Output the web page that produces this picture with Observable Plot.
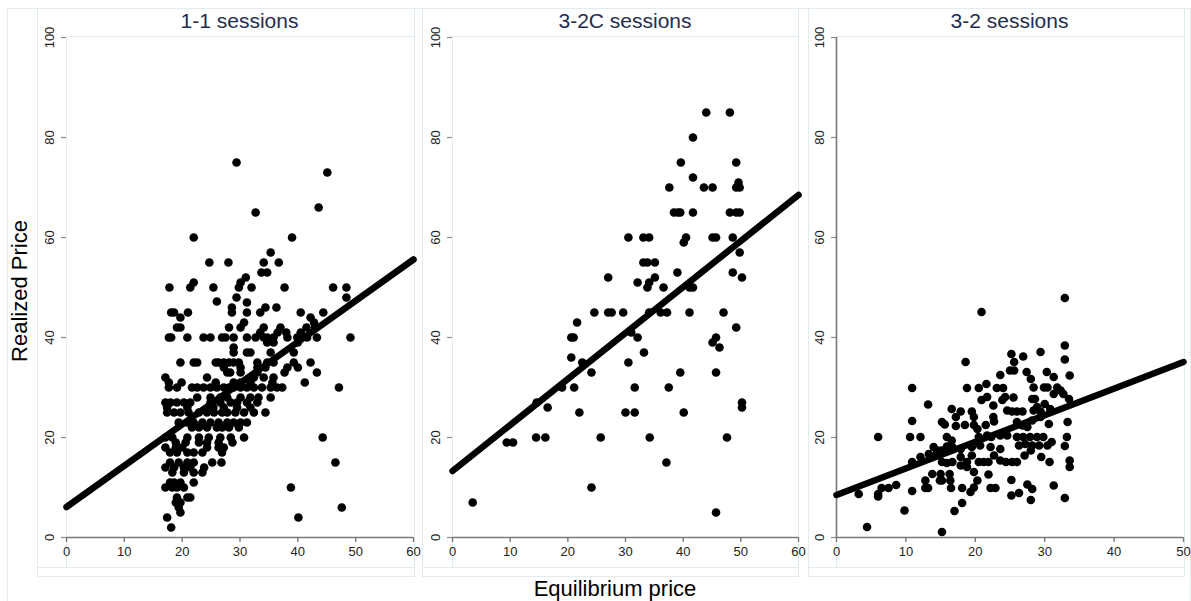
<!DOCTYPE html>
<html>
<head>
<meta charset="utf-8">
<script src="https://cdn.jsdelivr.net/npm/d3@7"></script>
<script src="https://cdn.jsdelivr.net/npm/@observablehq/plot@0.6"></script>
<style>
  body { margin: 0; background: #fff; font-family: "Liberation Sans", Arial, sans-serif; }
  #wrap { position: relative; width: 1191px; height: 601px; overflow: hidden; background: #fff; }
  .box { position: absolute; box-sizing: border-box; border: 1px solid #e3ecec; }
  .hline { position: absolute; height: 0; border-top: 1px solid #e3ecec; }
  .ttl { position: absolute; top: 6px; height: 30px; line-height: 30px; text-align: center; color: #1f2d50; font-size: 21px; white-space: nowrap; }
  .plot { position: absolute; top: 0; }
  .plot svg { max-width: none !important; }
  #ylab { position: absolute; left: 20px; top: 291px; transform: translate(-50%, -50%) rotate(-90deg); font-size: 22px; line-height: 1; white-space: nowrap; color: #000; }
  #xlab { position: absolute; left: 615px; top: 589px; transform: translate(-50%, -50%); font-size: 22px; line-height: 1; white-space: nowrap; color: #000; }
</style>
</head>
<body>
<div id="wrap">
  <div class="box" style="left:7px;top:8px;width:1184px;height:700px;"></div>
  <div class="box" style="left:37px;top:8px;width:378px;height:569px;"></div>
  <div class="box" style="left:422px;top:8px;width:377px;height:569px;"></div>
  <div class="box" style="left:808px;top:8px;width:377px;height:569px;"></div>
  <div class="box" style="left:66px;top:36px;width:349px;height:532px;"></div>
  <div class="box" style="left:452px;top:36px;width:347px;height:532px;"></div>
  <div class="box" style="left:836px;top:36px;width:349px;height:532px;"></div>
  <div class="hline" style="left:37px;top:567px;width:378px;"></div>
  <div class="hline" style="left:422px;top:567px;width:377px;"></div>
  <div class="hline" style="left:808px;top:567px;width:377px;"></div>
  <div id="ylab">Realized Price</div>
  <div id="xlab">Equilibrium price</div>
</div>
<script>
// ---------------- DATA ----------------
const panelTitles = ["1-1 sessions", "3-2C sessions", "3-2 sessions"];
const xDomain11 = [0, 60], xDomain32C = [0, 60], xDomain32 = [0, 50];
const xTicks11 = [0, 10, 20, 30, 40, 50, 60];
const xTicks32C = [0, 10, 20, 30, 40, 50, 60];
const xTicks32 = [0, 10, 20, 30, 40, 50];
const yDomain = [0, 100];
const yTicks = [0, 20, 40, 60, 80, 100];

// fitted lines (endpoints): [equilibrium, realized]
const fit11 = [[0, 6.1], [60, 55.6]];
const fit32C = [[0, 13.3], [60, 68.5]];
const fit32 = [[0, 8.5], [50, 35.1]];

// [equilibrium price, realized price]
const points11 = [
  [29.4,75],[45.1,73],[32.7,65],[43.6,66],[22,60],[39,60],[35.3,57],
  [24.7,55],[28,55],[34.1,55],[36.7,55],[33.7,53],[34.7,53],[31,52],
  [17.8,50],[21.4,50],[25.4,50],[29.8,50],[32,50],[37.7,50],[46.1,50],[48.4,50],
  [22,51],[30.1,51],[48.4,48],[29.4,48],[26,47.2],
  [18.1,45],[18.6,45],[21,45],[19.7,44],
  [28.6,46],[28.6,45],[31.2,47],[31.2,45],[34.4,46],[33.5,45],[36.3,46],
  [40.5,45],[42.2,44],[44.4,45],[42.8,43],[30.7,43],
  [19.1,42],[19.7,42],[28.1,42],[30.1,42],[34.1,42],[37,42],
  [33.5,41],[36.5,41],[38,41],[40.5,41],[41.5,42],[43,42],
  [17.7,40],[18.1,40],[20.9,40],[23.7,40],[24.9,40],[26.9,40],[27.5,40],[28.9,40],[31.2,40],
  [32.7,40],[34.1,40],[34.7,40],[35.8,40],[38.2,40],[39.9,40],[41.6,40],[43.3,40],[49.1,40],
  [34.7,39],[35.8,39],[40,39],[28.9,38],
  [28.9,37],[31.2,37],[31.8,37],[35.3,37],[39.3,37],
  [19.7,35],[22,35],[22.6,35],[25.8,35],[26.3,35],[27.2,35],[28.1,35],[28.9,35],[29.8,35],
  [33,35],[34.7,35],[35.8,35],[39.3,35],[42.2,35],
  [27.2,34],[30.1,34],[33,34],[34.4,34],[38.2,34],[40,34],
  [27.8,33],[28.3,33],[30.1,33],[33,33],[37.7,33],[43.3,33],
  [17.1,32],[24.3,32],[32.4,32],[34.1,32],[35.8,32],
  [17.7,31],[19.9,31],[25.8,31],[28.9,31],[30.1,31],[31.8,31],[35.6,31],[41.2,31],
  [17.7,30],[19.1,30],[21.7,30],[22.6,30],[23.7,30],[24.9,30],[26,30],[27.2,30],[28.1,30],
  [28.9,30],[30.1,30],[31.2,30],[32.4,30],[33.8,30],[35.3,30],[36.4,30],[37.3,30],[47.1,30],
  [22.6,28],[24.9,28],[26.6,28],[27.8,28],[30.1,28],[31.8,28],[33.2,28],[35.3,28],
  [17.1,27],[18,27],[19.1,27],[20.3,27],[21.4,27],[24.9,27],[26.6,27],[28.4,27],[29.5,27],[31.2,27],[33,27],
  [17.4,26],[20.9,26],[25.4,26],[27.2,26],[29.5,26],[31.8,26],
  [17.4,25],[18.6,25],[19.7,25],[21.1,25],[22.9,25],[24.3,25],[25.5,25],[26.9,25],[27.8,25],
  [29.2,25],[30.7,25],[32.4,25],[34.4,25],
  [19.4,23],[20.9,23],[22,23],[23.5,23],[24.9,23],[26.3,23],[27.8,23],[28.9,23],[30.1,23],[31.2,23],
  [21.7,22],[22.9,22],[24.3,22],[26,22],[26.9,22],[28.1,22],[29.8,22],
  [17.1,20],[18.3,20],[20.9,20],[22.9,20],[24.6,20],[26.6,20],[28.4,20],[30.7,20],[44.3,20],
  [18.9,19],[20.6,19],[22.9,19],[24.3,19],[26.3,19],[28.7,19],
  [17.1,18],[18.9,18],[20,18],[24.3,18],[26.3,18],[27.2,18],
  [17.9,17],[19.1,17],[20.9,17],[22,17],[23.5,17],[26.9,17],
  [17.9,15],[19.4,15],[20.9,15],[22,15],[25.2,15],[26.8,15],[46.5,15],
  [17.1,14],[18.6,14],[20.3,14],[21.4,14],[23.8,14],
  [18.3,13],[20.3,13],[22,13],[23.5,13],
  [17.9,11],[18.6,11],[19.7,11],[22,11],
  [17.1,10],[18.3,10],[19.1,10],[20.3,10],[38.8,10],
  [19.1,8],[20.9,8],[21.4,8],[18.9,7],[19.7,7],
  [19.4,6],[47.6,6],[19.7,5],[17.4,4],[40.1,4],[18.1,2]
];

const points32C = [
  [44,85],[48.1,85],[41.7,80],[39.6,75],[49.2,75],[41.7,72],
  [37.6,70],[43.6,70],[45.1,70],[49.2,70],[49.6,71],[49.8,70],
  [38.4,65],[39.1,65],[39.5,65],[41.7,65],[48.1,65],[49.2,65],[49.8,65],
  [30.5,60],[33.1,60],[34.1,60],[40.5,60],[45.1,60],[45.7,60],[48.6,60],
  [40.1,59],[49.8,57],[33.1,55],[33.8,55],[35.1,55],
  [39,53],[48.6,53],[27,52],[50.2,52],[35.1,52],[32.1,51],[34.1,51],
  [33.8,50],[36.6,50],[41.1,50],[41.7,50],
  [24.6,45],[27,45],[27.6,45],[29.6,45],[34.1,45],[36.1,45],[37.2,45],[41.1,45],[47,45],
  [21.6,43],[49.2,42],[20.6,40],[21,40],[31,41],[32.1,40],
  [45.1,39],[45.7,40],[46.3,38],[20.6,36],[22.5,35],[30.5,35],[33.2,37],
  [24.1,33],[39.5,33],[45.7,33],[19,30],[21.1,30],[31.6,30],[37.5,30],
  [14.6,27],[16.5,26],[22,25],[30,25],[31.6,25],[40.1,25],[50.2,27],[50.2,26],
  [9.4,19],[10.5,19],[14.5,20],[16.1,20],[25.7,20],[34.2,20],[47.6,20],
  [37.1,15],[24.1,10],[3.5,7],[45.7,5]
];

const points32 = [
  [32.9,47.9],[20.9,45.1],[32.9,38.4],[32.9,35.6],[33.6,32.4],
  [25.2,36.7],[26.9,36.2],[29.4,37.1],[25.6,35.1],[25,33.4],[25.6,33.4],[18.6,35.1],
  [23.6,32.5],[27.4,33.1],[28,31.7],[30.3,33.1],[31.3,32.1],
  [10.9,29.9],[18.8,29.9],[20.5,29.9],[21.6,30.7],[23.1,29.9],[24,29.9],
  [28.4,30],[29.9,30],[30.4,30],[31.8,30],[32.3,29.4],
  [21.7,28.1],[20.9,27.5],[24.3,28.1],[25.5,28],[23.9,27.5],
  [28.2,27.7],[28.6,27.7],[31.3,28.7],[32.7,28.7],[33.5,27.7],
  [13.2,26.6],[22.6,26.4],[16.6,25.7],[17.9,25.2],[17.2,24.1],[19.5,25.2],[19.8,24.1],
  [24.6,25.4],[25.3,25.2],[26,25.2],[26.8,25.2],
  [28.4,25.4],[28.9,26.1],[29.4,25.2],[30,26.7],[30.8,25.7],
  [10.9,23.3],[15.2,23.1],[15.6,22.6],[17.2,22.3],[18.5,22.5],
  [19.8,22.5],[20.3,21.7],[21.5,22.5],[22.6,24.1],[22.7,23.2],
  [26,23.1],[26.8,22.4],[27.5,22.1],[28.2,23.4],[29.4,24.1],[30.6,22.7],[33.3,23.1],
  [6,20.1],[10.6,20.1],[12.1,20.1],[15.9,20.1],[16.6,19.4],
  [20.5,20.1],[21.7,20.4],[22.3,20.1],[23.6,20.4],[24.6,20.4],
  [26,20.1],[26.9,20.1],[27.9,20.1],[28.9,20.1],[29.8,20.1],[33.2,20.1],
  [14,18.1],[14.5,17.4],[15.1,17.4],[15.9,18.2],[16.7,18.1],
  [17.9,17.7],[19.5,18.1],[20.7,18.4],[22.2,18.1],[23.6,17.7],
  [26.3,18.4],[27.2,18.7],[28.2,18.4],[29.2,18.4],[30.4,18.4],[31,19.1],[32.9,18.3],
  [10.9,15.1],[12.1,16.1],[13.3,16.7],[14.3,16.4],
  [15.2,15.1],[15.9,14.9],[16.7,15.1],[17.9,16.1],[18.8,15.1],[19.5,16.4],[20.5,15.1],
  [21.2,15.1],[21.9,15.1],[22.7,16.4],[23.6,15.4],[24.4,15.1],[25.3,15.1],[26,15.1],
  [27.1,16.4],[28,17.4],[29.5,16.1],[30.7,15.1],[33.6,15.4],[33.6,14.1],
  [12.8,11.4],[12.8,9.9],[13.8,12.7],[15,12.7],[15.2,11.4],
  [16.3,12.7],[16.4,11.4],[16.5,9.9],
  [17.9,14.4],[18.8,14.1],[19.8,13.1],[20.3,11.4],[19.3,9.1],[18.1,9.9],
  [21.9,12.6],[22.2,9.9],[22.9,9.9],
  [25.2,11.5],[25.2,8.4],[26.3,8.9],[27.5,10.6],[28.2,9.7],[28,7.5],
  [31.3,10.4],[32.9,7.9],
  [3.2,8.7],[6,8.7],[6,8.2],[6.5,9.9],[7.5,9.9],[8.6,10.5],
  [10.9,9.3],[9.8,5.4],[17,5.3],[18.1,6.9],[4.4,2.1],[15.2,1.1],[13.2,9.9],
  [14.9,11.4],[19.8,10]
];

// ---------------- DRAWING ----------------
const panels = [
  {title: panelTitles[0], pts: points11, fit: fit11, xd: xDomain11, xt: xTicks11, yAxisLine: false},
  {title: panelTitles[1], pts: points32C, fit: fit32C, xd: xDomain32C, xt: xTicks32C, yAxisLine: false},
  {title: panelTitles[2], pts: points32, fit: fit32, xd: xDomain32, xt: xTicks32, yAxisLine: true}
];
const plotLeft = [66, 452, 836];
const plotRight = [413, 798, 1183];
const mL = 45, mR = 8, mT = 37, mB = 64, H = 601;
const wrap = document.getElementById("wrap");

panels.forEach((p, i) => {
  const W = (plotRight[i] - plotLeft[i]) + mL + mR;
  const marks = [
    Plot.ruleY([0], {stroke: "#7a7a7a", strokeWidth: 1.6}),
    Plot.axisX({ticks: p.xt, tickSize: 5, tickPadding: 4, stroke: "#7a7a7a", strokeWidth: 1.4, fontSize: 13, label: null}),
    Plot.axisY({ticks: yTicks, tickSize: 5, tickRotate: -90, tickPadding: 8, stroke: "#8a8a8a", strokeWidth: 1.2, fontSize: 13, label: null}),
  ];
  if (p.yAxisLine) marks.push(Plot.ruleX([0], {stroke: "#7a7a7a", strokeWidth: 1.6}));
  marks.push(
    Plot.dot(p.pts, {x: d => d[0], y: d => d[1], r: 4.3, fill: "#000", stroke: null}),
    Plot.line(p.fit, {x: d => d[0], y: d => d[1], stroke: "#000", strokeWidth: 6.5, strokeLinecap: "round"})
  );
  const svg = Plot.plot({
    width: W, height: H,
    marginLeft: mL, marginRight: mR, marginTop: mT, marginBottom: mB,
    x: {domain: p.xd},
    y: {domain: yDomain},
    style: {fontFamily: "'Liberation Sans', Arial, sans-serif", fontSize: "13px", color: "#222", background: "transparent", overflow: "visible", maxWidth: "none"},
    marks
  });
  svg.style.maxWidth = "none";
  const holder = document.createElement("div");
  holder.className = "plot";
  holder.style.left = (plotLeft[i] - mL) + "px";
  holder.style.width = W + "px";
  holder.style.height = H + "px";
  holder.appendChild(svg);
  wrap.appendChild(holder);

  const t = document.createElement("div");
  t.className = "ttl";
  t.style.left = plotLeft[i] + "px";
  t.style.width = (plotRight[i] - plotLeft[i]) + "px";
  t.textContent = p.title;
  wrap.appendChild(t);
});
</script>
</body>
</html>
